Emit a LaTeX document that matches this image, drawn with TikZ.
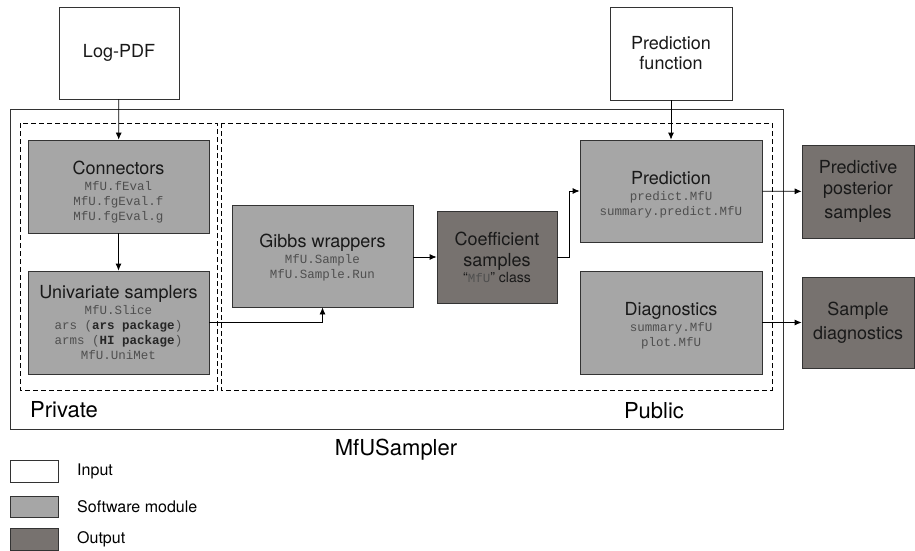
\documentclass[tikz,border=0pt]{standalone}
\usepackage{fontspec}
\setmainfont{TeX Gyre Heros}
\setmonofont{Liberation Mono}
\usetikzlibrary{arrows.meta}
\definecolor{modgray}{HTML}{A6A6A6}
\definecolor{outgray}{HTML}{77726F}
\definecolor{codegray}{HTML}{4F4F4F}
\newcommand{\mfcode}[1]{{\fontsize{12.5}{15}\selectfont\ttfamily\color{codegray}#1}}
\newcommand{\mfbold}[1]{{\bfseries\color{black!85}#1}}
\newcommand{\mflift}[1]{\rule{0pt}{#1}}
\tikzset{
    box/.style={draw=black!80, line width=0.8pt, align=center, inner sep=0pt,
        font=\fontsize{18}{15}\selectfont, text=black!90},
    inputbox/.style={box, fill=white},
    modbox/.style={box, fill=modgray},
    outbox/.style={box, fill=outgray},
    flow/.style={line width=0.8pt, -{Latex[length=7pt,width=6pt]}},
    region/.style={line width=0.8pt, dash pattern=on 5pt off 3pt},
    tag/.style={font=\fontsize{22}{24}\selectfont, inner sep=0pt},
    legend/.style={font=\fontsize{16}{18}\selectfont, inner sep=0pt, anchor=west},
}
\begin{document}
\begin{tikzpicture}[x=1pt,y=-1pt]
        \useasboundingbox (0,0) rectangle (915,551);
        %% Package frame
        \draw[line width=0.8pt,black!80] (10,109) rectangle (783,429);
        \draw[region] (20,123) rectangle (217,390);
        \draw[region] (221,123) rectangle (772,390);
        \node[tag,anchor=west] (private) at (30,410) {Private};
        \node[tag] (public) at (654,411) {Public};
        \node[tag] (sampler) at (396,450) {MfUSampler};
        %% Inputs
        \node[inputbox,minimum width=120,minimum height=92] (logpdf) at (119,53) {Log-PDF};
        \node[inputbox,minimum width=122,minimum height=93] (predfun) at (671,53.5)
            {Prediction\\[5pt] function};
        %% Private modules
        \node[modbox,minimum width=181,minimum height=93] (connectors) at (118.5,186.5)
            {\mflift{25pt}Connectors\\[1pt] \mfcode{MfU.fEval}\\ \mfcode{MfU.fgEval.f}\\ \mfcode{MfU.fgEval.g}};
        \node[modbox,minimum width=181,minimum height=103] (univariate) at (118.5,322.5)
            {Univariate samplers\\[1pt] \mfcode{MfU.Slice}\\
             \mfcode{ars (\mfbold{ars package})}\\
             \mfcode{arms (\mfbold{HI package})}\\ \mfcode{MfU.UniMet}};
        %% Public modules
        \node[modbox,minimum width=181,minimum height=102] (gibbs) at (322.5,256)
            {\mflift{17pt}Gibbs wrappers\\[1pt] \mfcode{MfU.Sample}\\ \mfcode{MfU.Sample.Run}};
        \node[outbox,minimum width=120,minimum height=92] (coeff) at (497,257)
            {Coefficient\\[6pt] samples\\[1pt]
             {\fontsize{14}{15}\selectfont ``\mfcode{MfU}'' class}};
        \node[modbox,minimum width=182,minimum height=102] (prediction) at (671,191)
            {\mflift{21pt}Prediction\\[1pt] \mfcode{predict.MfU}\\ \mfcode{summary.predict.MfU}};
        \node[modbox,minimum width=182,minimum height=103] (diagnostics) at (671,322.5)
            {\mflift{20pt}Diagnostics\\[1pt] \mfcode{summary.MfU}\\ \mfcode{plot.MfU}};
        %% Outputs
        \node[outbox,minimum width=112,minimum height=93] (predpost) at (858,191.5)
            {Predictive\\[6pt] posterior\\[6pt] samples};
        \node[outbox,minimum width=112,minimum height=91] (sampdiag) at (858,322.5)
            {Sample\\[6pt] diagnostics};
        %% Flow
        \draw[flow] (logpdf) -- (connectors);
        \draw[flow] (connectors) -- (univariate);
        \draw[flow] (univariate.east) -| (gibbs.south);
        \draw[flow] (gibbs.east |- coeff.west) -- (coeff.west);
        \draw[flow] (coeff.east) -- ++(12,0) |- (prediction.west);
        \draw[flow] (predfun) -- (prediction);
        \draw[flow] (prediction) -- (predpost);
        \draw[flow] (diagnostics) -- (sampdiag);
        %% Legend
        \node[inputbox,minimum width=48,minimum height=22] (keyin) at (34,471) {};
        \node[modbox,minimum width=48,minimum height=21] (keymod) at (34,506.5) {};
        \node[outbox,minimum width=48,minimum height=22] (keyout) at (34,539) {};
        \node[legend] (keyintext) at (77,471) {Input};
        \node[legend] (keymodtext) at (77,506.5) {Software module};
        \node[legend] (keyouttext) at (77,539) {Output};
\end{tikzpicture}
\end{document}
